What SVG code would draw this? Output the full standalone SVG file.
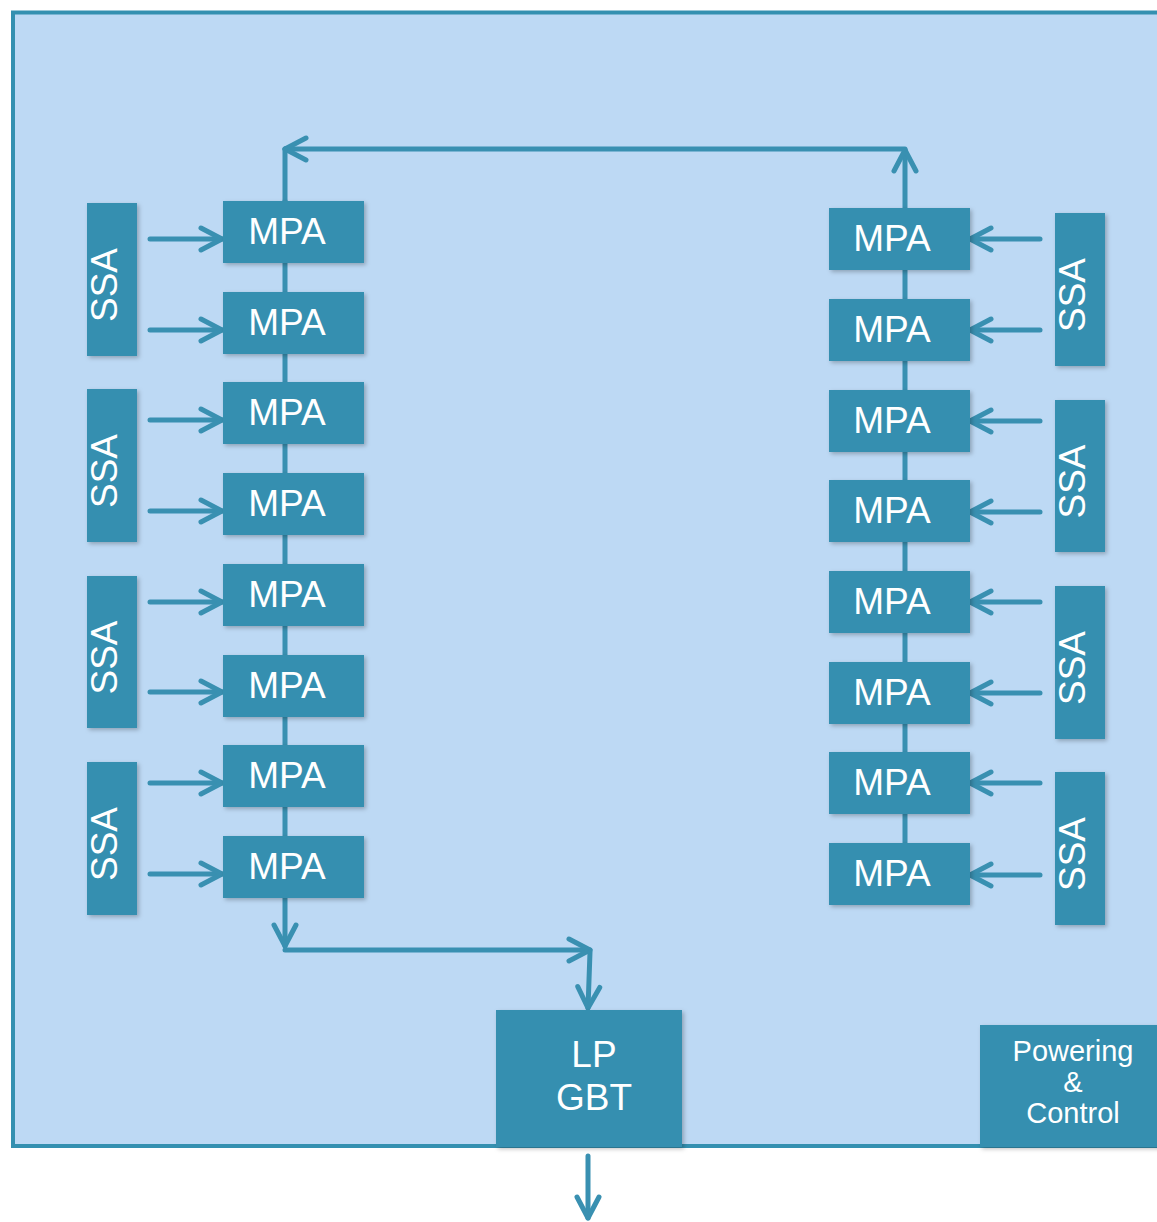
<svg xmlns="http://www.w3.org/2000/svg" width="1157" height="1222" viewBox="0 0 1157 1222">
<style>
.box{fill:#348fb0;filter:url(#sh)}
.ln{stroke:#3990b1;stroke-width:5;fill:none;stroke-linecap:round;stroke-linejoin:round}
.arr{marker-end:url(#ah)}
.t{font-family:"Liberation Sans",Arial,sans-serif;fill:#ffffff;text-anchor:middle}
.big{font-size:37px}
.sm{font-size:29px}
</style>
<defs>
<filter id="sh" x="-20%" y="-20%" width="140%" height="140%">
<feDropShadow dx="2" dy="2" stdDeviation="2" flood-color="#000" flood-opacity="0.25"/>
</filter>
<marker id="ah" markerUnits="userSpaceOnUse" markerWidth="40" markerHeight="40" viewBox="-30 -20 40 40" refX="0" refY="0" orient="auto">
<path d="M-21,-11 L0,0 L-21,11" fill="none" stroke="#3990b1" stroke-width="5" stroke-linecap="round" stroke-linejoin="round"/>
</marker>
</defs>
<rect x="13" y="12.5" width="1170" height="1133.5" fill="#bdd9f4" stroke="#3490b0" stroke-width="4"/>
<g id="connectors">
<line class="ln" x1="285" y1="201" x2="285" y2="836"/>
<line class="ln" x1="905" y1="270" x2="905" y2="843"/>
<path class="ln arr" d="M905,208 L905,150"/>
<path class="ln arr" d="M905,149 L285,149"/>
<line class="ln" x1="285" y1="149" x2="285" y2="201"/>
<path class="ln arr" d="M285,898 L285,946"/>
<path class="ln arr" d="M285,950 L590,950"/>
<path class="ln arr" d="M590,952 L588,1008"/>
<path class="ln arr" d="M588,1156 L588,1218"/>
<path class="ln arr" d="M150,239 L222,239"/>
<path class="ln arr" d="M150,330 L222,330"/>
<path class="ln arr" d="M150,420 L222,420"/>
<path class="ln arr" d="M150,511 L222,511"/>
<path class="ln arr" d="M150,602 L222,602"/>
<path class="ln arr" d="M150,692 L222,692"/>
<path class="ln arr" d="M150,783 L222,783"/>
<path class="ln arr" d="M150,874 L222,874"/>
<path class="ln arr" d="M1040,239 L970,239"/>
<path class="ln arr" d="M1040,330 L970,330"/>
<path class="ln arr" d="M1040,421 L970,421"/>
<path class="ln arr" d="M1040,512 L970,512"/>
<path class="ln arr" d="M1040,602 L970,602"/>
<path class="ln arr" d="M1040,693 L970,693"/>
<path class="ln arr" d="M1040,783 L970,783"/>
<path class="ln arr" d="M1040,875 L970,875"/>
</g>
<g id="mpa-l1"><rect class="box" x="223" y="201" width="141" height="62"/><text class="t big" x="287" y="244">MPA</text></g>
<g id="mpa-l2"><rect class="box" x="223" y="292" width="141" height="62"/><text class="t big" x="287" y="335">MPA</text></g>
<g id="mpa-l3"><rect class="box" x="223" y="382" width="141" height="62"/><text class="t big" x="287" y="425">MPA</text></g>
<g id="mpa-l4"><rect class="box" x="223" y="473" width="141" height="62"/><text class="t big" x="287" y="516">MPA</text></g>
<g id="mpa-l5"><rect class="box" x="223" y="564" width="141" height="62"/><text class="t big" x="287" y="607">MPA</text></g>
<g id="mpa-l6"><rect class="box" x="223" y="655" width="141" height="62"/><text class="t big" x="287" y="698">MPA</text></g>
<g id="mpa-l7"><rect class="box" x="223" y="745" width="141" height="62"/><text class="t big" x="287" y="788">MPA</text></g>
<g id="mpa-l8"><rect class="box" x="223" y="836" width="141" height="62"/><text class="t big" x="287" y="879">MPA</text></g>
<g id="mpa-r1"><rect class="box" x="829" y="208" width="141" height="62"/><text class="t big" x="892" y="251">MPA</text></g>
<g id="mpa-r2"><rect class="box" x="829" y="299" width="141" height="62"/><text class="t big" x="892" y="342">MPA</text></g>
<g id="mpa-r3"><rect class="box" x="829" y="390" width="141" height="62"/><text class="t big" x="892" y="433">MPA</text></g>
<g id="mpa-r4"><rect class="box" x="829" y="480" width="141" height="62"/><text class="t big" x="892" y="523">MPA</text></g>
<g id="mpa-r5"><rect class="box" x="829" y="571" width="141" height="62"/><text class="t big" x="892" y="614">MPA</text></g>
<g id="mpa-r6"><rect class="box" x="829" y="662" width="141" height="62"/><text class="t big" x="892" y="705">MPA</text></g>
<g id="mpa-r7"><rect class="box" x="829" y="752" width="141" height="62"/><text class="t big" x="892" y="795">MPA</text></g>
<g id="mpa-r8"><rect class="box" x="829" y="843" width="141" height="62"/><text class="t big" x="892" y="886">MPA</text></g>
<g id="ssa-l1"><rect class="box" x="87" y="203" width="50" height="153"/><text class="t big" transform="translate(117,285) rotate(-90)">SSA</text></g>
<g id="ssa-l2"><rect class="box" x="87" y="389" width="50" height="153"/><text class="t big" transform="translate(117,471) rotate(-90)">SSA</text></g>
<g id="ssa-l3"><rect class="box" x="87" y="576" width="50" height="152"/><text class="t big" transform="translate(117,657.5) rotate(-90)">SSA</text></g>
<g id="ssa-l4"><rect class="box" x="87" y="762" width="50" height="153"/><text class="t big" transform="translate(117,844) rotate(-90)">SSA</text></g>
<g id="ssa-r1"><rect class="box" x="1055" y="213" width="50" height="153"/><text class="t big" transform="translate(1085,295) rotate(-90)">SSA</text></g>
<g id="ssa-r2"><rect class="box" x="1055" y="400" width="50" height="152"/><text class="t big" transform="translate(1085,481.5) rotate(-90)">SSA</text></g>
<g id="ssa-r3"><rect class="box" x="1055" y="586" width="50" height="153"/><text class="t big" transform="translate(1085,668) rotate(-90)">SSA</text></g>
<g id="ssa-r4"><rect class="box" x="1055" y="772" width="50" height="153"/><text class="t big" transform="translate(1085,854) rotate(-90)">SSA</text></g>
<g id="lpgbt"><rect class="box" x="496" y="1010" width="186" height="137"/><text class="t big" x="594" y="1067">LP</text><text class="t big" x="594" y="1110">GBT</text></g>
<g id="power"><rect class="box" x="980" y="1025" width="200" height="122"/><text class="t sm" x="1073" y="1061">Powering</text><text class="t sm" x="1073" y="1092">&amp;</text><text class="t sm" x="1073" y="1123">Control</text></g>
</svg>
